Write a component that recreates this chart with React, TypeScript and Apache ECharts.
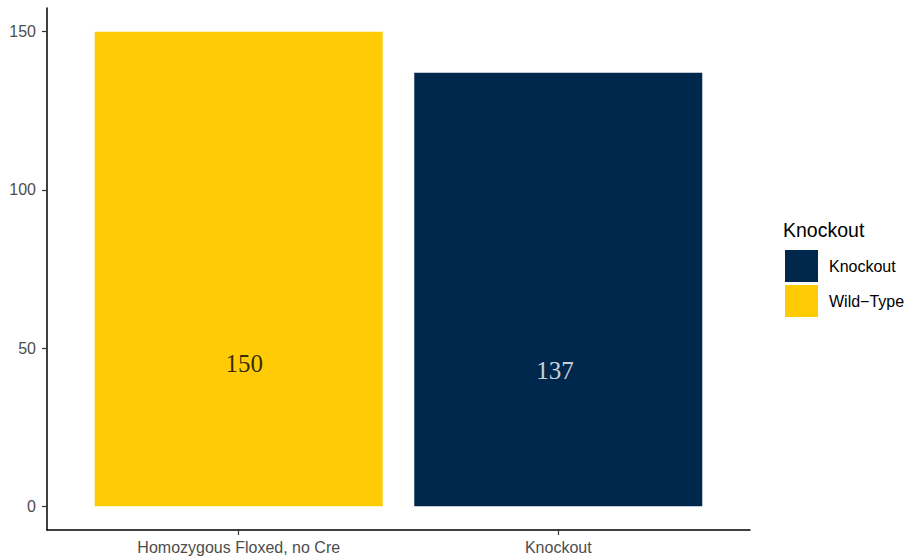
import React, { useEffect, useRef } from "react";
import * as echarts from "echarts";

const categories = ["Homozygous Floxed, no Cre", "Knockout"];
const groups = ["Knockout", "Wild\u2212Type"];
const groupOfCategory = ["Wild\u2212Type", "Knockout"];
const counts = [150, 137];
const labelHeights = [45, 43];
const labelXs = [1.017, 1.99];
const yTicks = [0, 50, 100, 150];
const colors: Record<string, string> = { "Knockout": "#00274C", "Wild\u2212Type": "#FFCB05" };

export default function App() {
  const ref = useRef<HTMLDivElement>(null);
  useEffect(() => {
    if (!ref.current) return;
    const chart = echarts.init(ref.current, null, { renderer: "svg" });
    const font = "Liberation Sans, Arial, Helvetica, sans-serif";
    const barSeries = groups.map((g) => ({
      name: g,
      type: "bar",
      barWidth: 288,
      barGap: "-100%",
      itemStyle: { color: colors[g] },
      data: categories
        .map((c, i) => (groupOfCategory[i] === g ? [i + 1, counts[i]] : null))
        .filter((d) => d !== null),
    }));
    const labelSeries = {
      name: "labels",
      type: "scatter",
      symbolSize: 0,
      silent: true,
      z: 10,
      data: categories.map((c, i) => ({
        value: [labelXs[i], labelHeights[i], counts[i]],
        label: {
          show: true,
          position: "inside",
          formatter: String(counts[i]),
          color: groupOfCategory[i] === "Knockout" ? "#ffffff" : "#000000",
          textBorderWidth: 0,
          fontFamily: "Liberation Serif, Times New Roman, serif",
          fontSize: 25,
        },
      })),
    };
    chart.setOption({
      animation: false,
      grid: { left: 47, top: 8, width: 703, height: 522, containLabel: false },
      xAxis: {
        type: "value",
        min: 0.4,
        max: 2.6,
        splitLine: { show: false },
        axisLine: { show: true, onZero: false, lineStyle: { color: "#000", width: 1.5 } },
        axisTick: { show: true, customValues: [1, 2], length: 5, lineStyle: { color: "#333", width: 1.2 } },
        axisLabel: {
          customValues: [1, 2],
          formatter: (v: number) => categories[Math.round(v) - 1] ?? "",
          color: "#4D4D4D",
          fontSize: 16,
          fontFamily: font,
          margin: 9,
        },
      },
      yAxis: {
        type: "value",
        min: -7.5,
        max: 157.5,
        splitLine: { show: false },
        axisLine: { show: true, onZero: false, lineStyle: { color: "#000", width: 1.5 } },
        axisTick: { show: true, customValues: yTicks, length: 5, lineStyle: { color: "#333", width: 1.2 } },
        axisLabel: {
          customValues: yTicks,
          color: "#4D4D4D",
          fontSize: 16,
          fontFamily: font,
          margin: 11,
        },
      },
      legend: {
        data: groups,
        orient: "vertical",
        left: 785,
        top: 250,
        itemWidth: 33,
        itemHeight: 32,
        itemGap: 3,
        icon: "rect",
        selectedMode: false,
        textStyle: { fontSize: 16, fontFamily: font, color: "#000", padding: [0, 0, 0, 6] },
        padding: 0,
      },
      graphic: [
        {
          type: "text",
          left: 783,
          top: 220,
          style: { text: "Knockout", fontSize: 19.5, fontFamily: font, fill: "#000" },
        },
      ],
      series: [...barSeries, labelSeries],
    });
    return () => chart.dispose();
  }, []);
  return <div ref={ref} style={{ width: 906, height: 559, position: "absolute", left: 0, top: 0 }} />;
}
